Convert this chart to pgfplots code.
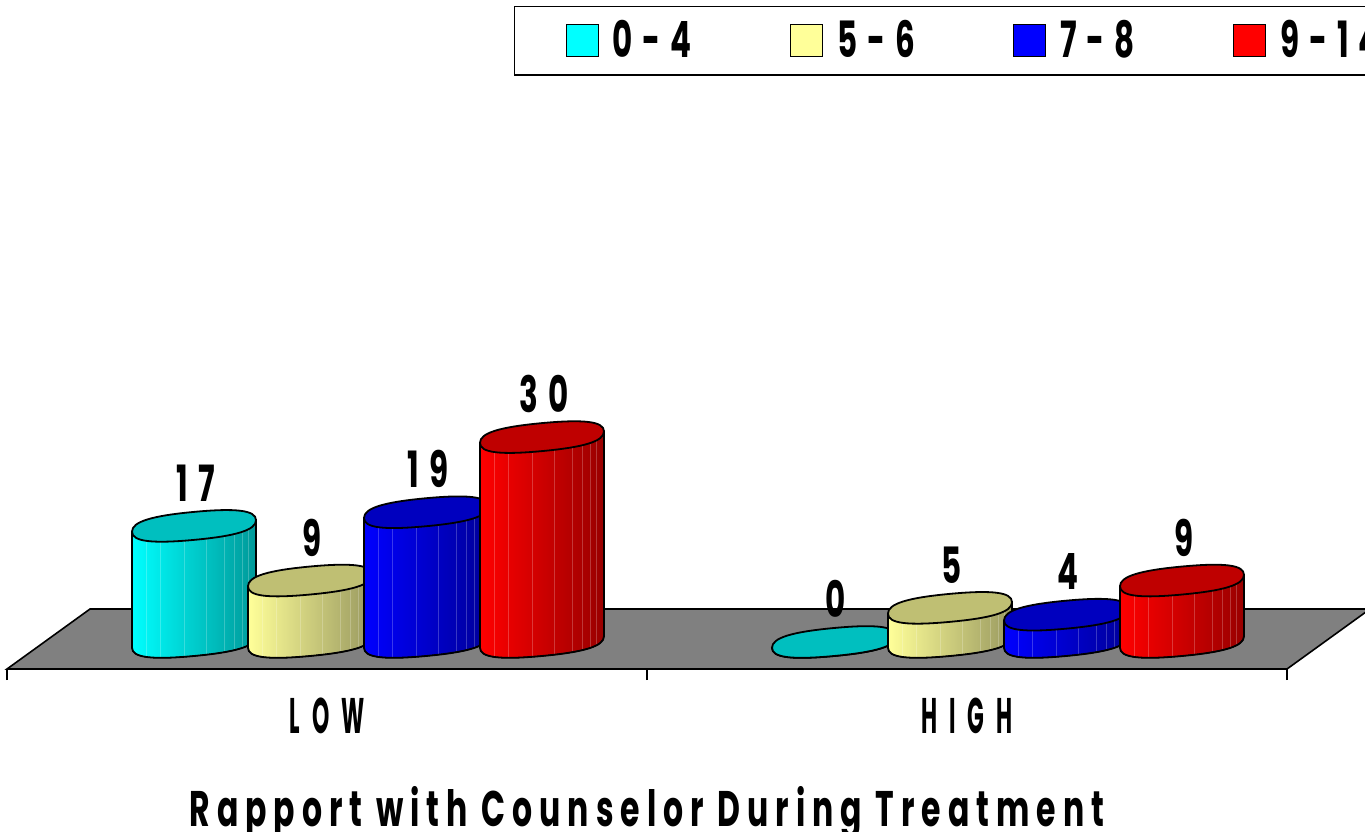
\documentclass[border=0pt]{standalone}
\usepackage{fontspec}
\usepackage{pgfplots}
\pgfplotsset{compat=1.18}
\setmainfont{Poppins}
\newfontfamily\numfont{Poppins}[FakeStretch=0.62,LetterSpace=20]
\newfontfamily\catfont{Poppins}[FakeStretch=0.44,LetterSpace=24]
\newfontfamily\titlefont{Poppins}[FakeStretch=0.63,LetterSpace=14]

\definecolor{cCyan}{HTML}{00FFFF}
\definecolor{cCyanTop}{HTML}{00BFBF}
\definecolor{cCyanSide}{HTML}{009999}
\definecolor{cYel}{HTML}{FFFF99}
\definecolor{cYelTop}{HTML}{BFBF73}
\definecolor{cYelSide}{HTML}{999960}
\definecolor{cBlue}{HTML}{0000FF}
\definecolor{cBlueTop}{HTML}{0000BF}
\definecolor{cBlueSide}{HTML}{000099}
\definecolor{cRed}{HTML}{FF0000}
\definecolor{cRedTop}{HTML}{BF0000}
\definecolor{cRedSide}{HTML}{990000}
\definecolor{cFloor}{HTML}{808080}

% one cylinder, drawn at the data point (top centre); 1 px = 0.5pt
\newcommand{\cylbody}{(-62,-5.75-\hh) -- (-62,-5.75) -- (62,5.75) -- (62,5.75-\hh)
  .. controls (62,-4.25-\hh) and (42,-10.1-\hh) .. (0,-14-\hh)
  .. controls (-42,-17.9-\hh) and (-62,-15.75-\hh) .. (-62,-5.75-\hh) -- cycle}
\newcommand{\cyltop}{(62,5.75) .. controls (62,15.75) and (42,17.9) .. (0,14)
  .. controls (-42,10.1) and (-62,4.25) .. (-62,-5.75)
  .. controls (-62,-15.75) and (-42,-17.9) .. (0,-14)
  .. controls (42,-10.1) and (62,-4.25) .. (62,5.75) -- cycle}
\newcommand{\drawcyl}[1]{%
  \pgfkeys{/pgf/fpu=false}%
  \pgfmathsetmacro{\hh}{\val*6.83}%
  \begin{scope}[x=.5pt,y=.5pt]
    \path[left color=#1,right color=#1Side] \cylbody;
    \begin{scope}
      \clip \cylbody;
      \foreach \fx in {-48,-34,-10,12,30,40,48,54}
        \draw[white,opacity=.22,line width=.4pt] (\fx,-40-\hh) -- (\fx,20);
    \end{scope}
    \draw[black,line width=.9pt] \cylbody;
    \path[draw=black,line width=.9pt,fill=#1Top] \cyltop;
  \end{scope}}
\pgfdeclareplotmark{cylcCyan}{\drawcyl{cCyan}}
\pgfdeclareplotmark{cylcYel}{\drawcyl{cYel}}
\pgfdeclareplotmark{cylcBlue}{\drawcyl{cBlue}}
\pgfdeclareplotmark{cylcRed}{\drawcyl{cRed}}
\pgfplotsset{
  cyl/.style={forget plot,scatter,only marks,mark=cyl#1,
    visualization depends on={value \thisrow{v} \as \val},
    nodes near coords={\val},
    every node near coord/.style={anchor=center,yshift=21.5pt,xshift=1pt,black,font=\numfont\bfseries\fontsize{25}{25}\selectfont}},
  swatch/.style={legend image code/.code={
    \draw[black,line width=.6pt,fill=#1] (0pt,-8pt) rectangle (16pt,8pt);}}
}

\begin{document}
\begin{tikzpicture}
\clip (-3.5pt,-81pt) rectangle (679pt,334.5pt);
\begin{axis}[scale only axis,width=640pt,height=218.4pt,
  xmin=0,xmax=2,ymin=-3.953,ymax=60,clip=false,
  axis y line=none,axis x line=bottom,
  x axis line style={-,line width=.8pt},
  xtick={0,1,2},xticklabels={},tick align=outside,major tick length=5.5pt,
  tick style={black,line width=.6pt},
  extra x ticks={0.5,1.5},extra x tick labels={LOW,HIGH},
  extra x tick style={major tick length=0pt,
    tick label style={font=\catfont\bfseries\fontsize{25}{25}\selectfont,yshift=-11pt}},
  xlabel={\titlefont\bfseries\fontsize{25}{25}\selectfont Rapport with Counselor During Treatment},
  xlabel style={yshift=-14pt},
  legend columns=4,
  legend style={at={(0.396,1.518)},anchor=north west,draw=black,line width=.7pt,
    font=\numfont\bfseries\fontsize{25}{25}\selectfont,
    inner xsep=25.5pt,inner ysep=5pt,
    /tikz/every odd column/.append style={column sep=5pt},
    /tikz/every even column/.append style={column sep=47pt}},
  legend cell align=left]
\addlegendimage{swatch=cCyan}\addlegendentry{0-4}
\addlegendimage{swatch=cYel}\addlegendentry{5-6}
\addlegendimage{swatch=cBlue}\addlegendentry{7-8}
\addlegendimage{swatch=cRed}\addlegendentry{9-14}
% floor
\addplot[forget plot,fill=cFloor,draw=black,line width=.8pt]
  coordinates {(0,-3.953)(2,-3.953)(2.1297,4.83)(0.1297,4.83)} -- cycle;
% series
\addplot[cyl=cCyan] table {
x v
0.2922 17
1.2922 0
};
\addplot[cyl=cYel] table {
x v
0.4734 9
1.4734 5
};
\addplot[cyl=cBlue] table {
x v
0.6547 19
1.6547 4
};
\addplot[cyl=cRed] table {
x v
0.8359 30
1.8359 9
};
\end{axis}
\end{tikzpicture}
\end{document}
